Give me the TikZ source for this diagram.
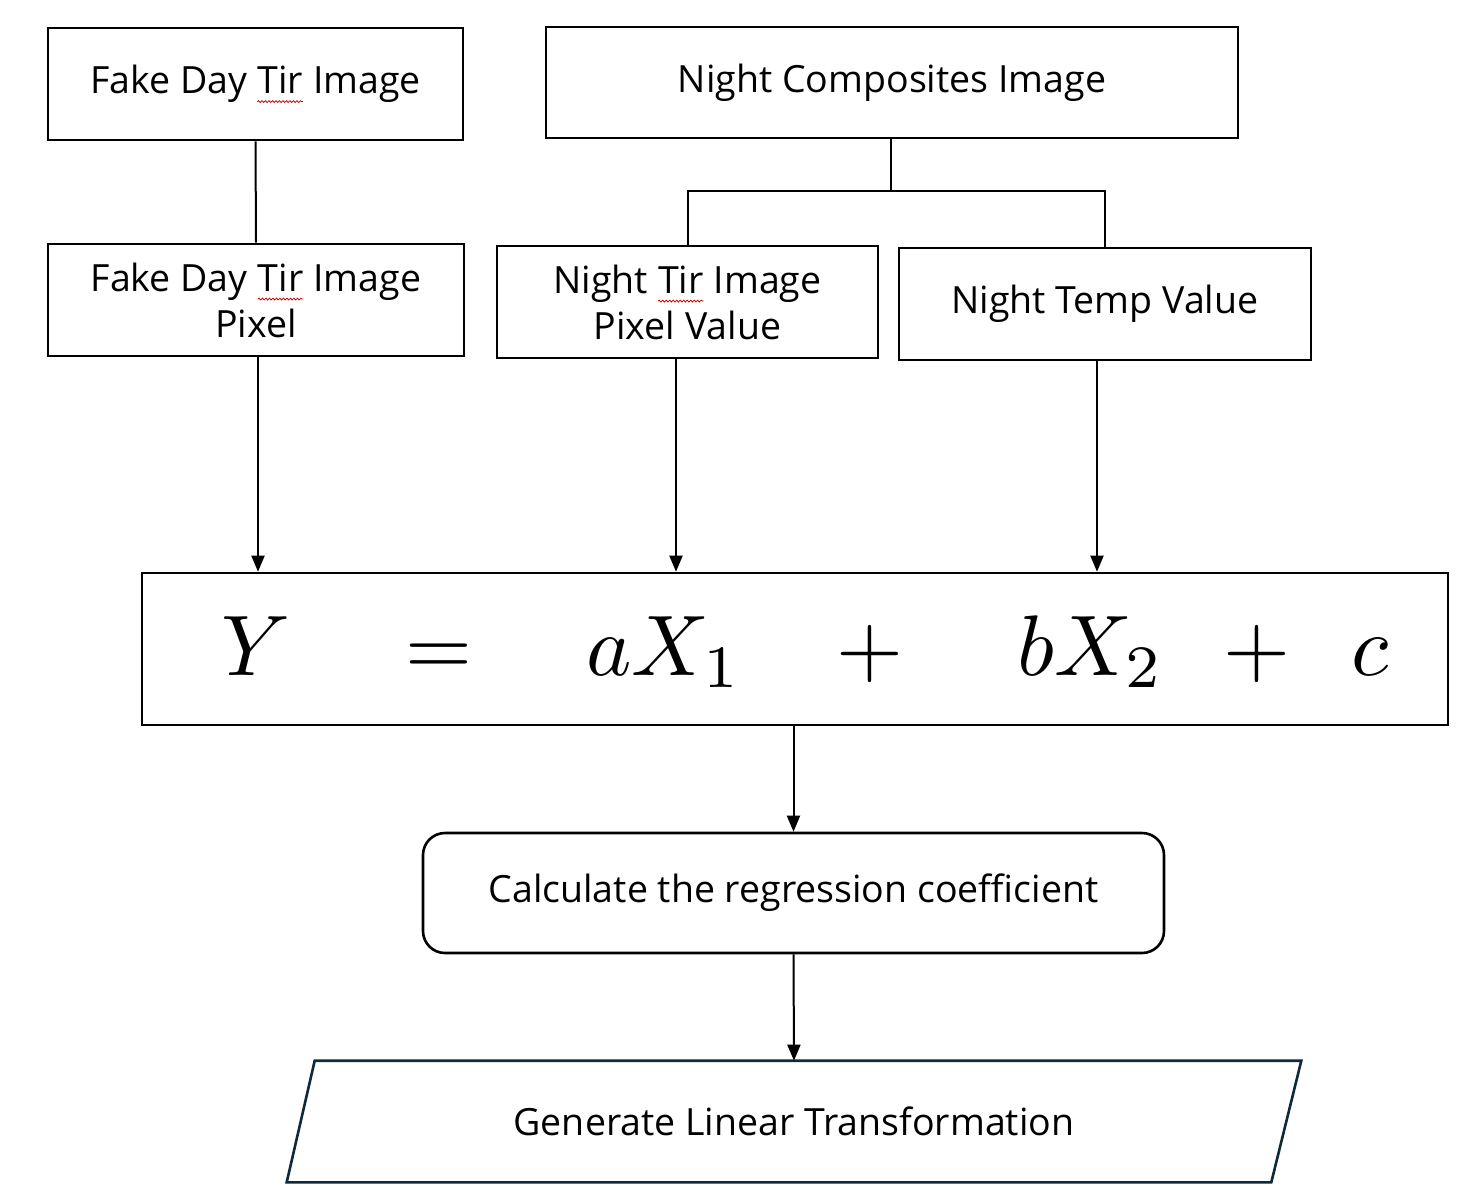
\documentclass[tikz,border=0pt]{standalone}
\usepackage{graphicx}
\usepackage{fontspec}
\setmainfont{Open Sans}
\usetikzlibrary{arrows.meta,shapes.geometric,decorations.pathmorphing}
\definecolor{navy}{HTML}{0E2A3A}
\newcommand\squig[1]{\tikz[baseline=(sq.base)]{\node[shape=rectangle,draw=none,inner sep=0pt,outer sep=0pt,minimum width=0pt,minimum height=0pt,rounded corners=0pt](sq){#1};\draw[red!85!black,line width=0.8pt,decorate,decoration={snake,amplitude=0.9pt,segment length=3.5pt}]([yshift=-8pt]sq.base west)--([yshift=-8pt]sq.base east);}}
\newcommand\eqbig[1]{\scalebox{8.6}{$#1$}}
\tikzset{
  box/.style={draw=black,line width=2.6pt,inner sep=0pt,align=center,font=\fontsize{37.5}{46}\selectfont},
  conn/.style={line width=2pt},
  arr/.style={line width=2pt,-{Triangle[length=16pt,width=13pt]}},
  mth/.style={anchor=base,inner sep=0pt,font=\fontsize{10}{12}\selectfont},
}
\begin{document}
\begin{tikzpicture}[x=1pt,y=-1pt]
\useasboundingbox (0,0) rectangle (1476,1197);
\fill[white] (0,0) rectangle (1476,1197);
% boxes
\node[box,minimum width=415pt,minimum height=112pt] (fdt) at (255.5,84) {Fake Day \squig{Tir} Image};
\node[box,minimum width=692pt,minimum height=111pt] (nc) at (892,82.5) {Night Composites Image};
\node[box,minimum width=416pt,minimum height=112pt] (fdp) at (256,300) {Fake Day \squig{Tir} Image\\Pixel};
\node[box,minimum width=381pt,minimum height=112pt] (ntp) at (687.5,302) {Night \squig{Tir} Image\\Pixel Value};
\node[box,minimum width=412pt,minimum height=112pt] (ntv) at (1105,304) {Night Temp Value};
\node[box,minimum width=1306pt,minimum height=152pt] (eq) at (795,649) {};
\node[box,rounded corners=22pt,minimum width=741pt,minimum height=120pt] (calc) at (793.5,893) {Calculate the regression coefficient};
\node[box,draw=none,minimum width=1012pt,minimum height=119pt] (gen) at (794,1121.5) {Generate Linear Transformation};
\draw[navy,line width=2.6pt,line join=miter] ([xshift=28pt]gen.north west) -- (gen.north east) -- ([xshift=-30pt]gen.south east) -- (gen.south west) -- cycle;
% equation
\node[mth] (m1) at (256,675) {\eqbig{Y}};
\node[mth] (m2) at (439,675) {\eqbig{=}};
\node[mth] (m3) at (664,675) {\eqbig{aX_1}};
\node[mth] (m4) at (870,675) {\eqbig{+}};
\node[mth] (m5) at (1091,675) {\eqbig{bX_2}};
\node[mth] (m6) at (1257,675) {\eqbig{+}};
\node[mth] (m7) at (1370,675) {\eqbig{c}};
% connectors
\draw[conn] (fdt.south) -- (fdp.north);
\coordinate (j) at (891,191);
\draw[conn] (nc.south -| j) -- (j);
\draw[conn] (j) -| (ntp.north);
\draw[conn] (j) -| (ntv.north);
\draw[arr] ([xshift=2pt]fdp.south) -- ([xshift=2pt]fdp.south |- eq.north);
\draw[arr] ([xshift=-11.5pt]ntp.south) -- ([xshift=-11.5pt]ntp.south |- eq.north);
\draw[arr] ([xshift=-8pt]ntv.south) -- ([xshift=-8pt]ntv.south |- eq.north);
\draw[arr] (calc.north |- eq.south) -- (calc.north);
\draw[arr] (calc.south) -- (gen.north);
\end{tikzpicture}
\end{document}
